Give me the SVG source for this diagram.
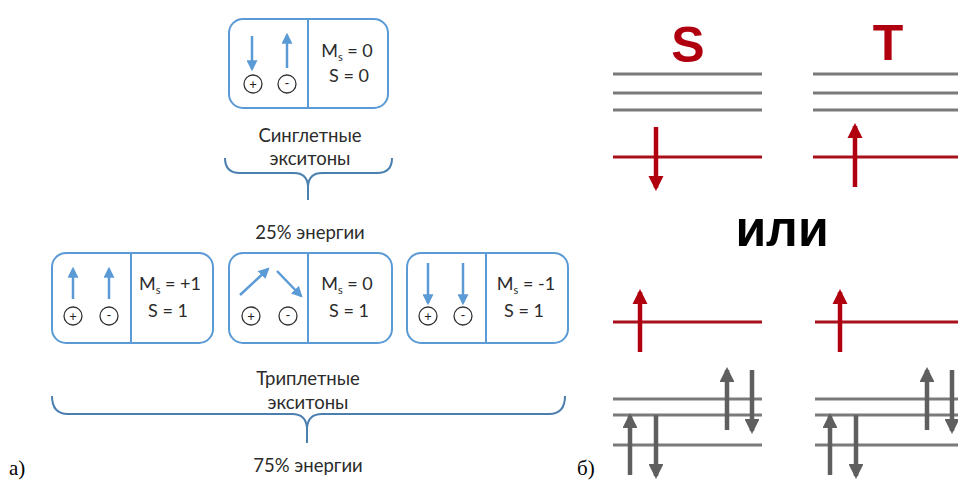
<svg xmlns="http://www.w3.org/2000/svg" width="958" height="488" viewBox="0 0 958 488">
  <defs>
    <marker id="blueHead" viewBox="0 0 10 10" refX="8" refY="5" markerWidth="4.4" markerHeight="4.4" orient="auto" markerUnits="strokeWidth">
      <path d="M0,0 L10,5 L0,10 Z" fill="#5b9bd5"/>
    </marker>
    <marker id="redHead" viewBox="0 0 10 10" refX="8" refY="5" markerWidth="3.4" markerHeight="3.4" orient="auto" markerUnits="strokeWidth">
      <path d="M0,0 L10,5 L0,10 Z" fill="#b00010"/>
    </marker>
    <marker id="grayHead" viewBox="0 0 10 10" refX="8" refY="5" markerWidth="3.3" markerHeight="3.3" orient="auto" markerUnits="strokeWidth">
      <path d="M0,0 L10,5 L0,10 Z" fill="#5f5f5f"/>
    </marker>
  </defs>
  <style>
    .box { fill: #ffffff; stroke: #5b9bd5; stroke-width: 2; }
    .div { stroke: #5b9bd5; stroke-width: 2; }
    .spin { stroke: #5b9bd5; stroke-width: 2.5; marker-end: url(#blueHead); }
    .hole { fill: #ffffff; stroke: #333333; stroke-width: 1.3; }
    .sign { font-family: "Lato", "Liberation Sans", sans-serif; font-size: 13px; fill: #222222; text-anchor: middle; }
    .q { font-family: "Lato", "Liberation Sans", sans-serif; font-size: 18px; fill: #2b2b2b; text-anchor: middle; }
    .cap { font-family: "Lato", "Liberation Sans", sans-serif; font-size: 18.5px; fill: #2b2b2b; text-anchor: middle; }
    .brace { fill: none; stroke: #4a7fb0; stroke-width: 2; }
    .lvl { stroke: #7a7a7a; stroke-width: 3; }
    .red { stroke: #a8101c; stroke-width: 3; }
    .rarrow { stroke: #b00010; stroke-width: 4.5; marker-end: url(#redHead); }
    .garrow { stroke: #5f5f5f; stroke-width: 4.5; marker-end: url(#grayHead); }
    .big { font-family: "Liberation Sans", "Arial", sans-serif; font-weight: bold; text-anchor: middle; }
    .lbl { font-family: "Liberation Serif", "Times New Roman", serif; font-size: 21px; fill: #000000; }
  </style>

  <rect width="958" height="488" fill="#ffffff"/>

  <!-- singlet exciton -->
  <g id="singlet">
    <rect class="box" x="229" y="19" width="159" height="89" rx="14"/>
    <line class="div" x1="308" y1="19" x2="308" y2="108"/>
    <line class="spin" x1="252" y1="36" x2="252" y2="69"/>
    <line class="spin" x1="287" y1="68" x2="287" y2="35"/>
    <circle class="hole" cx="253" cy="84" r="9"/>
    <circle class="hole" cx="287" cy="84" r="9"/>
    <text class="sign" x="253" y="89">+</text>
    <text class="sign" x="287" y="88">-</text>
    <text class="q" x="347" y="57">M<tspan font-size="11" dy="4">s</tspan><tspan dy="-4"> = 0</tspan></text>
    <text class="q" x="349" y="82">S  = 0</text>
  </g>

  <!-- triplet Ms=+1 -->
  <g id="triplet-plus">
    <rect class="box" x="52" y="253" width="161" height="90" rx="14"/>
    <line class="div" x1="131" y1="253" x2="131" y2="343"/>
    <line class="spin" x1="73" y1="299" x2="73" y2="269"/>
    <line class="spin" x1="109" y1="299" x2="109" y2="269"/>
    <circle class="hole" cx="73" cy="316" r="9"/>
    <circle class="hole" cx="109" cy="316" r="9"/>
    <text class="sign" x="73" y="321">+</text>
    <text class="sign" x="109" y="320">-</text>
    <text class="q" x="170" y="290">M<tspan font-size="11" dy="4">s</tspan><tspan dy="-4"> = +1</tspan></text>
    <text class="q" x="168" y="317">S  = 1</text>
  </g>

  <!-- triplet Ms=0 -->
  <g id="triplet-zero">
    <rect class="box" x="229" y="253" width="163" height="90" rx="14"/>
    <line class="div" x1="308" y1="253" x2="308" y2="343"/>
    <line class="spin" x1="240" y1="295" x2="268" y2="269"/>
    <line class="spin" x1="277" y1="271" x2="301" y2="296"/>
    <circle class="hole" cx="251" cy="316" r="9"/>
    <circle class="hole" cx="288" cy="316" r="9"/>
    <text class="sign" x="251" y="321">+</text>
    <text class="sign" x="288" y="320">-</text>
    <text class="q" x="347" y="290">M<tspan font-size="11" dy="4">s</tspan><tspan dy="-4"> = 0</tspan></text>
    <text class="q" x="349" y="317">S  = 1</text>
  </g>

  <!-- triplet Ms=-1 -->
  <g id="triplet-minus">
    <rect class="box" x="407" y="253" width="161" height="90" rx="14"/>
    <line class="div" x1="486" y1="253" x2="486" y2="343"/>
    <line class="spin" x1="428" y1="263" x2="428" y2="303"/>
    <line class="spin" x1="463" y1="263" x2="463" y2="303"/>
    <circle class="hole" cx="428" cy="316" r="9"/>
    <circle class="hole" cx="463" cy="316" r="9"/>
    <text class="sign" x="428" y="321">+</text>
    <text class="sign" x="463" y="320">-</text>
    <text class="q" x="526" y="290">M<tspan font-size="11" dy="4">s</tspan><tspan dy="-4"> = -1</tspan></text>
    <text class="q" x="524" y="317">S  = 1</text>
  </g>

  <!-- braces -->
  <g id="connectors">
    <path class="brace" d="M225,158 Q225,173 240,173 L294,173 Q307,173 308,186 Q309,173 322,173 L377,173 Q392,173 392,158"/>
    <line class="brace" x1="308" y1="184" x2="308" y2="200"/>
    <path class="brace" d="M52,396 Q52,414 68,414 L292,414 Q306,414 307,428 Q308,414 322,414 L549,414 Q565,414 565,396"/>
    <line class="brace" x1="307" y1="426" x2="307" y2="443"/>
  </g>
  <g id="captions">
    <text class="cap" x="310" y="142">Синглетные</text>
    <text class="cap" x="310" y="165">экситоны</text>
    <text class="cap" x="310" y="239">25% энергии</text>
    <text class="cap" x="308" y="385">Триплетные</text>
    <text class="cap" x="308" y="409">экситоны</text>
    <text class="cap" x="308" y="472">75% энергии</text>
  </g>

  <!-- energy level schemes -->
  <g id="scheme-S">
    <text class="big" x="688" y="62" font-size="50" fill="#b00010">S</text>
    <line class="lvl" x1="613" y1="74" x2="762" y2="74"/>
    <line class="lvl" x1="613" y1="93" x2="762" y2="93"/>
    <line class="lvl" x1="613" y1="110" x2="762" y2="110"/>
    <line class="red" x1="613" y1="157" x2="762" y2="157"/>
    <line class="rarrow" x1="656" y1="127" x2="656" y2="188"/>
  </g>
  <g id="scheme-T">
    <text class="big" x="888" y="60" font-size="50" fill="#b00010">T</text>
    <line class="lvl" x1="813" y1="74" x2="958" y2="74"/>
    <line class="lvl" x1="813" y1="93" x2="958" y2="93"/>
    <line class="lvl" x1="813" y1="110" x2="958" y2="110"/>
    <line class="red" x1="813" y1="157" x2="958" y2="157"/>
    <line class="rarrow" x1="855" y1="187" x2="855" y2="126"/>
  </g>
  <text class="big" x="782" y="246" font-size="50" fill="#000000">или</text>

  <g id="scheme-S2">
    <line class="red" x1="613" y1="322" x2="762" y2="322"/>
    <line class="rarrow" x1="640" y1="352" x2="640" y2="292"/>
    <line class="lvl" x1="613" y1="399" x2="762" y2="399"/>
    <line class="lvl" x1="613" y1="415" x2="762" y2="415"/>
    <line class="lvl" x1="613" y1="445" x2="762" y2="445"/>
    <line class="garrow" x1="630" y1="475" x2="630" y2="416"/>
    <line class="garrow" x1="656" y1="415" x2="656" y2="476"/>
    <line class="garrow" x1="727" y1="430" x2="727" y2="370"/>
    <line class="garrow" x1="752" y1="370" x2="752" y2="431"/>
  </g>
  <g id="scheme-T2">
    <line class="red" x1="815" y1="322" x2="958" y2="322"/>
    <line class="rarrow" x1="840" y1="352" x2="840" y2="292"/>
    <line class="lvl" x1="815" y1="399" x2="958" y2="399"/>
    <line class="lvl" x1="815" y1="415" x2="958" y2="415"/>
    <line class="lvl" x1="815" y1="445" x2="958" y2="445"/>
    <line class="garrow" x1="830" y1="475" x2="830" y2="416"/>
    <line class="garrow" x1="856" y1="415" x2="856" y2="476"/>
    <line class="garrow" x1="927" y1="430" x2="927" y2="370"/>
    <line class="garrow" x1="952" y1="370" x2="952" y2="431"/>
  </g>

  <text class="lbl" x="9" y="475">а)</text>
  <text class="lbl" x="577" y="475">б)</text>
</svg>
